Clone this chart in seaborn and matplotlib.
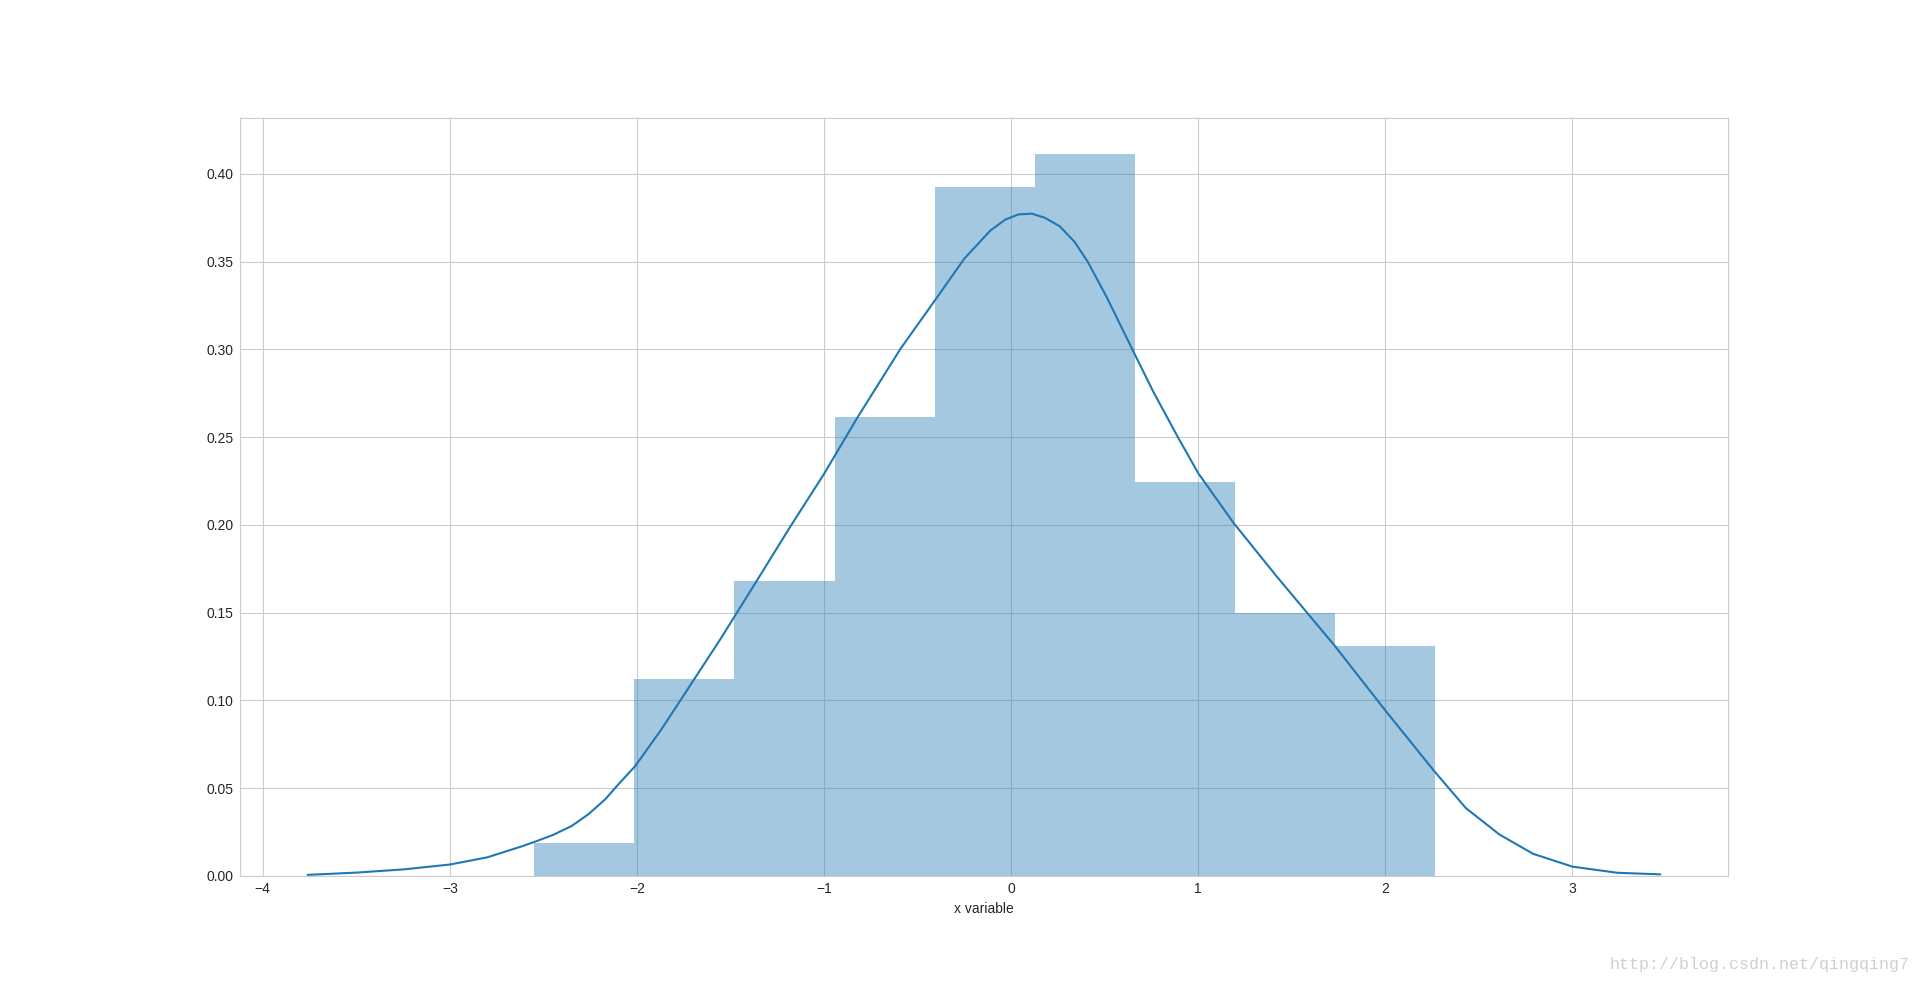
import matplotlib
matplotlib.use("Agg")
import matplotlib.pyplot as plt
import seaborn as sns

# histogram: 100 samples split into 9 equal bins
bin_edges = [-2.549, -2.014, -1.479, -0.944, -0.409, 0.126, 0.661, 1.196, 1.731, 2.266]
bin_centers = [-2.2815, -1.7465, -1.2115, -0.6765, -0.1415, 0.3935, 0.9285, 1.4635, 1.9985]
bin_counts = [1, 6, 9, 14, 21, 22, 12, 8, 7]

# kde curve
kde_x = [-3.76, -3.50, -3.25, -3.00, -2.80, -2.62, -2.55, -2.45, -2.35, -2.26,
         -2.17, -2.10, -2.01, -1.87, -1.73, -1.55, -1.36, -1.18, -1.00, -0.82,
         -0.59, -0.40, -0.25, -0.11, -0.03, 0.04, 0.11, 0.18, 0.26, 0.34,
         0.41, 0.51, 0.65, 0.76, 0.89, 1.00, 1.19, 1.42, 1.73, 2.00,
         2.26, 2.43, 2.61, 2.79, 3.00, 3.24, 3.47]
kde_y = [0.0005, 0.0018, 0.0036, 0.0064, 0.0105, 0.0166, 0.0192, 0.0232, 0.0283, 0.0350,
         0.0435, 0.0520, 0.0624, 0.0833, 0.1061, 0.1355, 0.1680, 0.1990, 0.2290, 0.2614,
         0.3005, 0.3290, 0.3517, 0.3678, 0.3740, 0.3769, 0.3773, 0.3750, 0.3701, 0.3611,
         0.3498, 0.3299, 0.2995, 0.2758, 0.2502, 0.2294, 0.2009, 0.1705, 0.1310, 0.0942,
         0.0598, 0.0386, 0.0235, 0.0125, 0.0052, 0.0017, 0.0008]

X_LABEL = "x variable"
WATERMARK = "http://blog.csdn.net/qingqing7"


def main() -> None:
    sns.set_style("whitegrid", {
        "axes.edgecolor": ".8",
        "grid.color": ".8",
        "xtick.bottom": False,
        "ytick.left": False,
    })
    plt.rcParams["font.family"] = ["Liberation Sans", "DejaVu Sans"]
    plt.rcParams["font.size"] = 10
    plt.rcParams["xtick.major.size"] = 0
    plt.rcParams["ytick.major.size"] = 0
    plt.rcParams["xtick.major.pad"] = 4.5
    plt.rcParams["ytick.major.pad"] = 4.5

    fig, ax = plt.subplots(figsize=(19.2, 9.84), dpi=100)

    sns.histplot(x=bin_centers, weights=bin_counts, bins=bin_edges, stat="density",
                 color="#1f77b4", alpha=0.4, linewidth=0, ax=ax)
    sns.lineplot(x=kde_x, y=kde_y, color="#1f77b4", linewidth=1.5, ax=ax)

    ax.set_xlabel(X_LABEL, fontsize=10, color=".15")
    ax.set_ylabel("")
    ax.tick_params(labelsize=10, labelcolor=".15")

    fig.text(0.9945, 0.02, WATERMARK, ha="right", va="center",
             family=["Liberation Mono", "DejaVu Sans Mono"], fontsize=12, color="#d0d0d0")

    fig.savefig("out.png", dpi=100)


if __name__ == "__main__":
    main()
